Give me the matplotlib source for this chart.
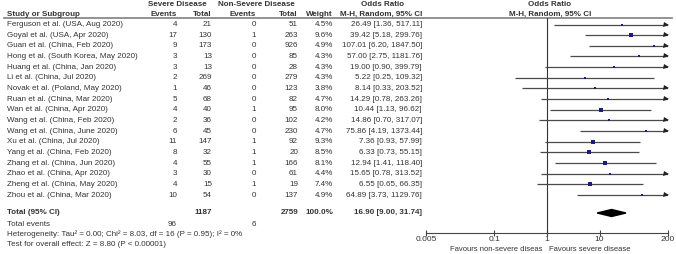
import numpy as np
import matplotlib
matplotlib.use("Agg")
import matplotlib.pyplot as plt
from matplotlib.patches import Polygon

plt.rcParams["font.family"] = ["Liberation Sans", "DejaVu Sans"]

studies = [
    "Ferguson et al. (USA, Aug 2020)", "Goyal et al. (USA, Apr 2020)",
    "Guan et al. (China, Feb 2020)", "Hong et al. (South Korea, May 2020)",
    "Huang et al. (China, Jan 2020)", "Li et al. (China, Jul 2020)",
    "Novak et al. (Poland, May 2020)", "Ruan et al. (China, Mar 2020)",
    "Wan et al. (China, Apr 2020)", "Wang et al. (China, Feb 2020)",
    "Wang et al. (China, June 2020)", "Xu et al. (China, Jul 2020)",
    "Yang et al. (China, Feb 2020)", "Zhang et al. (China, Jun 2020)",
    "Zhao et al. (China, Apr 2020)", "Zheng et al. (China, May 2020)",
    "Zhou et al. (China, Mar 2020)",
]
sev_events = [4, 17, 9, 3, 3, 2, 1, 5, 4, 2, 6, 11, 8, 4, 3, 4, 10]
sev_total = [21, 130, 173, 13, 13, 269, 46, 68, 40, 36, 45, 147, 32, 55, 30, 15, 54]
non_events = [0, 1, 0, 0, 0, 0, 0, 0, 1, 0, 0, 1, 1, 1, 0, 1, 0]
non_total = [51, 263, 926, 85, 28, 279, 123, 82, 95, 102, 230, 92, 20, 166, 61, 19, 137]
weights = [4.5, 9.6, 4.9, 4.3, 4.3, 4.3, 3.8, 4.7, 8.0, 4.2, 4.7, 9.3, 8.5, 8.1, 4.4, 7.4, 4.9]
odds = [26.49, 39.42, 107.01, 57.00, 19.00, 5.22, 8.14, 14.29, 10.44, 14.86,
        75.86, 7.36, 6.33, 12.94, 15.65, 6.55, 64.89]
ci_lo = [1.36, 5.18, 6.20, 2.75, 0.90, 0.25, 0.33, 0.78, 1.13, 0.70,
         4.19, 0.93, 0.73, 1.41, 0.78, 0.65, 3.73]
ci_hi = [517.11, 299.76, 1847.50, 1181.76, 399.79, 109.32, 203.52, 263.26, 96.62,
         317.07, 1373.44, 57.99, 55.15, 118.40, 313.52, 66.35, 1129.76]
pooled = (16.90, 9.00, 31.74)
tick_vals = [0.005, 0.1, 1, 10, 200]
tick_labels = ["0.005", "0.1", "1", "10", "200"]

W, H = 676, 254
FS = 5.8
TXT = "#333333"

fig = plt.figure(figsize=(W / 100, H / 100), dpi=100)
bg = fig.add_axes([0, 0, 1, 1])
bg.set_xlim(0, W)
bg.set_ylim(H, 0)
bg.axis("off")

def t(x, y, s, ha="left", bold=False, size=FS):
    bg.text(x, y, s, ha=ha, va="center", fontsize=size, color=TXT,
            fontweight="bold" if bold else "normal")

# headers
t(177, 5, "Severe Disease", ha="center", bold=True)
t(256, 5, "Non-Severe Disease", ha="center", bold=True)
t(383, 5, "Odds Ratio", ha="center", bold=True)
t(550, 5, "Odds Ratio", ha="center", bold=True)
t(7, 14, "Study or Subgroup", bold=True)
t(177, 14, "Events", ha="right", bold=True)
t(212, 14, "Total", ha="right", bold=True)
t(256, 14, "Events", ha="right", bold=True)
t(298, 14, "Total", ha="right", bold=True)
t(333, 14, "Weight", ha="right", bold=True)
t(422, 14, "M-H, Random, 95% CI", ha="right", bold=True)
t(550, 14, "M-H, Random, 95% CI", ha="center", bold=True)
bg.plot([4, 672], [18, 18], color="#8a8a8a", lw=1.3)

row_y = 24.5 + 10.66 * np.arange(len(studies))
for i, y in enumerate(row_y):
    t(7, y, studies[i])
    t(177, y, str(sev_events[i]), ha="right")
    t(212, y, str(sev_total[i]), ha="right")
    t(256, y, str(non_events[i]), ha="right")
    t(298, y, str(non_total[i]), ha="right")
    t(333, y, f"{weights[i]:.1f}%", ha="right")
    t(422, y, f"{odds[i]:.2f} [{ci_lo[i]:.2f}, {ci_hi[i]:.2f}]", ha="right")

y_tot = 213
t(7, y_tot, "Total (95% CI)", bold=True)
t(212, y_tot, str(sum(sev_total)), ha="right", bold=True)
t(298, y_tot, str(sum(non_total)), ha="right", bold=True)
t(333, y_tot, "100.0%", ha="right", bold=True)
t(422, y_tot, f"{pooled[0]:.2f} [{pooled[1]:.2f}, {pooled[2]:.2f}]", ha="right", bold=True)
t(7, 224, "Total events")
t(177, 224, str(sum(sev_events)), ha="right")
t(256, 224, str(sum(non_events)), ha="right")
t(7, 234.5, "Heterogeneity: Tau² = 0.00; Chi² = 8.03, df = 16 (P = 0.95); I² = 0%")
t(7, 245, "Test for overall effect: Z = 8.80 (P < 0.00001)")

# forest panel
y_axis, y_top = 233, 18
ax = fig.add_axes([426 / W, (H - y_axis) / H, 242 / W, (y_axis - y_top) / H])
ax.set_xscale("log")
ax.set_xlim(0.005, 200)
ax.set_ylim(y_axis, y_top)
ax.patch.set_visible(False)
for s in ["top", "right", "left"]:
    ax.spines[s].set_visible(False)
ax.spines["bottom"].set_color("#444444")
ax.spines["bottom"].set_linewidth(0.8)
ax.set_yticks([])
ax.set_xticks(tick_vals)
ax.set_xticklabels(tick_labels)
ax.minorticks_off()
ax.tick_params(axis="x", direction="inout", length=5, width=0.8, color="#444444",
               labelsize=FS + 0.3, labelcolor=TXT, pad=0)
ax.axvline(1, color="#333333", lw=0.8)

for i, y in enumerate(row_y):
    hi = min(ci_hi[i], 200)
    ax.plot([ci_lo[i], hi], [y, y], color="#4a4a4a", lw=0.9, solid_capstyle="butt")
    if ci_hi[i] > 200:
        ax.plot([185], [y], marker=">", color="#222222", markersize=3.6,
                markeredgewidth=0, clip_on=False)
    ax.plot([odds[i]], [y], marker="s", color="#1c1c80",
            markersize=1.9 + 0.04 * weights[i], markeredgewidth=0)

est, lo, hi = pooled
ax.add_patch(Polygon([[lo, y_tot], [est, y_tot - 3.5], [hi, y_tot], [est, y_tot + 3.5]],
                     closed=True, color="black"))

t(543, 249.5, "Favours non-severe diseas", ha="right", size=5.5)
t(549, 249.5, "Favours severe disease", size=5.5)

fig.savefig("out.png", dpi=100)
